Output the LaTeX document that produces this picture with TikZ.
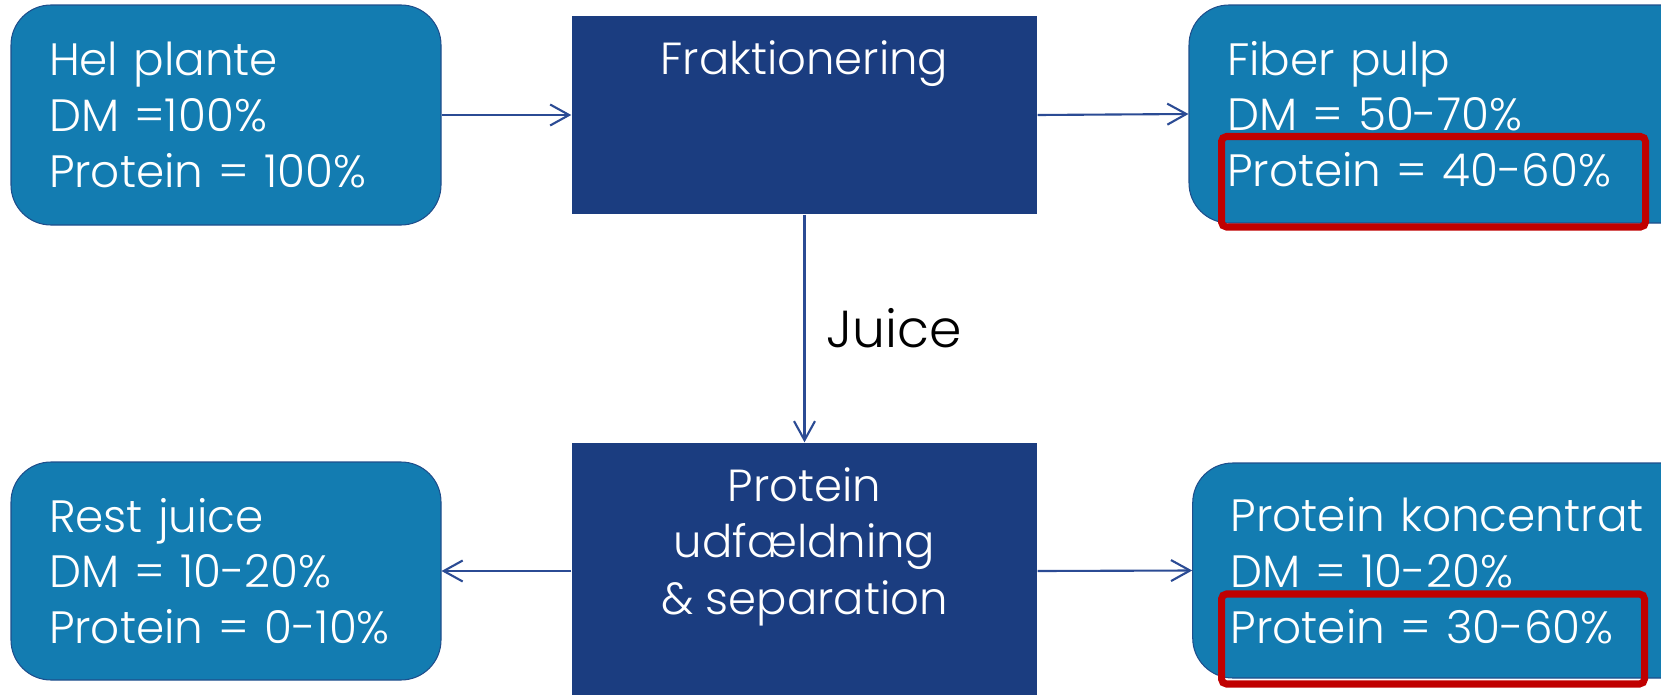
\documentclass[tikz,border=0pt]{standalone}
\usepackage{fontspec}
\setmainfont{Poppins Light}
\usetikzlibrary{arrows.meta}
\definecolor{boxblue}{HTML}{137CB1}
\definecolor{boxedge}{HTML}{1F4E8C}
\definecolor{darkblue}{HTML}{1B3D80}
\definecolor{arrowblue}{HTML}{2B4B94}
\definecolor{markred}{HTML}{C00000}
\begin{document}
\begin{tikzpicture}[x=0.1mm, y=-0.1mm,
  lightbox/.style={draw=boxedge, line width=0.3pt, fill=boxblue, rounded corners=4mm,
    text=white, align=left, inner xsep=3.8mm, inner ysep=0pt,
    font=\fontsize{12.9}{15.85}\selectfont},
  darkbox/.style={fill=darkblue, draw=none, text=white, inner sep=0pt,
    minimum width=46.5mm, font=\fontsize{12.8}{16.2}\selectfont},
  flow/.style={draw=arrowblue, line width=0.6pt, -{Straight Barb[length=1.9mm,width=2.1mm]}},
  redmark/.style={draw=markred, line width=2pt, rounded corners=0.5mm},
  flowlabel/.style={inner sep=0pt, text=black, font=\fontsize{14.8}{18}\selectfont}
]
\useasboundingbox (0,0) rectangle (1661,695);
\clip (0,0) rectangle (1661,695);

\node[lightbox, text width=35.4mm, minimum height=22mm] (hel) at (226,115)
  {\mbox{Hel plante}\\\mbox{DM =100\%}\\\mbox{Protein = 100\%}};
\node[lightbox, text width=44.4mm, minimum height=21.8mm] (fiber) at (1449,114)
  {\mbox{Fiber pulp}\\\mbox{DM = 50-70\%}\\\mbox{Protein = 40-60\%}};
\node[lightbox, text width=35.4mm, minimum height=21.8mm] (rest) at (226,571)
  {\mbox{Rest juice}\\\mbox{DM = 10-20\%}\\\mbox{Protein = 0-10\%}};
\node[lightbox, text width=44.4mm, minimum height=21.5mm] (konc) at (1452.7,570.5)
  {\mbox{Protein koncentrat}\\\mbox{DM = 10-20\%}\\\mbox{Protein = 30-60\%}};

\node[darkbox, text height=5.9mm, text depth=13.9mm] (frak) at (804.5,115) {Fraktionering};
\node[darkbox, text height=5.8mm, text depth=21.9mm] (prot) at (804.5,581.5)
  {\begin{tabular}[t]{@{}c@{}}Protein\\udfældning\\\& separation\end{tabular}};

\draw[flow] (hel) -- (frak);
\draw[flow] (frak.east) -- (fiber.west);
\draw[flow] (frak) -- (prot) node[midway, right=2.1mm, flowlabel] (juice) {Juice};
\draw[flow] (prot.west |- rest.east) -- (rest.east);
\draw[flow] (prot.east |- rest.east) -- (konc.west);

\draw[redmark] (1221.5,136.5) rectangle (1645.5,227);
\draw[redmark] (1221.5,594) rectangle (1644.5,684);
\end{tikzpicture}
\end{document}
